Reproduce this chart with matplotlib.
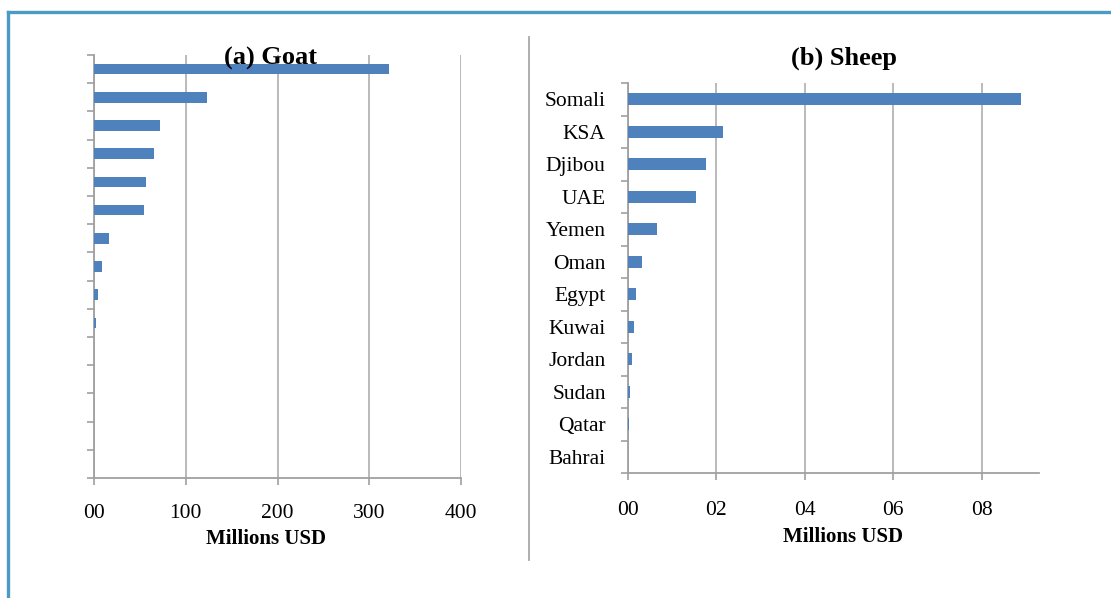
import numpy as np
import matplotlib.pyplot as plt
from matplotlib.lines import Line2D

plt.rcParams['font.family'] = ['Liberation Serif', 'DejaVu Serif']

# ---------------------- Data ---------------------- #

# Goat exports (labels are not readable in the source, top to bottom)
goat_labels = [''] * 15
goat_values = [322, 123, 72, 65, 57, 55, 16, 9, 4.5, 2.5, 0.5, 0.2, 0.1, 0, 0]
goat_ticks = [0, 100, 200, 300, 400]
goat_ticklabels = ['00', '100', '200', '300', '400']

# Sheep exports, top to bottom
sheep_labels = ['Somali', 'KSA', 'Djibou', 'UAE', 'Yemen', 'Oman', 'Egypt',
                'Kuwai', 'Jordan', 'Sudan', 'Qatar', 'Bahrai']
sheep_values = [0.889, 0.216, 0.177, 0.154, 0.066, 0.032, 0.018, 0.013,
                0.009, 0.005, 0.003, 0.0]
sheep_ticks = [0, 0.2, 0.4, 0.6, 0.8]
sheep_ticklabels = ['00', '02', '04', '06', '08']

bar_color = '#4f81bd'
grid_color = '#b4b4b4'
W, H = 1111, 598

fig = plt.figure(figsize=(W / 100, H / 100), dpi=100)


def px_axes(x0, y0, x1, y1):
    return fig.add_axes([x0 / W, 1 - y1 / H, (x1 - x0) / W, (y1 - y0) / H])


def style_axes(ax, labels, values, ticks, ticklabels, xmax, ypad, xpad):
    n = len(labels)
    y = np.arange(n)
    ax.barh(y, values, height=0.37, color=bar_color, zorder=3)
    ax.set_ylim(n - 0.5, -0.5)
    ax.set_xlim(0, xmax)
    ax.set_yticks(y)
    ax.set_yticklabels(labels, fontsize=15.5)
    ax.set_yticks(np.arange(n + 1) - 0.5, minor=True)
    ax.tick_params(axis='y', which='major', length=0, pad=ypad)
    ax.tick_params(axis='y', which='minor', length=5, width=1.2, color='#a0a0a0')
    ax.set_xticks(ticks)
    ax.set_xticklabels(ticklabels, fontsize=15.5)
    ax.tick_params(axis='x', length=5, width=1.2, color='#a0a0a0', pad=xpad)
    ax.grid(axis='x', color=grid_color, linewidth=1.3, zorder=0)
    for s in ['top', 'right']:
        ax.spines[s].set_visible(False)
    for s in ['left', 'bottom']:
        ax.spines[s].set_color('#a0a0a0')
        ax.spines[s].set_linewidth(1.3)


ax1 = px_axes(94, 55, 461, 478)
style_axes(ax1, goat_labels, goat_values, goat_ticks, goat_ticklabels, 400, 16, 14)

ax2 = px_axes(628, 83, 1039, 473)
style_axes(ax2, sheep_labels, sheep_values, sheep_ticks, sheep_ticklabels, 0.93, 16, 15)

# titles and axis labels
fig.text(270 / W, 1 - 58 / H, '(a) Goat', ha='center', va='center',
         fontsize=19, fontweight='bold', zorder=10)
fig.text(844 / W, 1 - 58 / H, '(b) Sheep', ha='center', va='center',
         fontsize=19, fontweight='bold')
fig.text(266 / W, 1 - 539 / H, 'Millions USD', ha='center', va='center',
         fontsize=15, fontweight='bold')
fig.text(843 / W, 1 - 537 / H, 'Millions USD', ha='center', va='center',
         fontsize=15, fontweight='bold')

# divider between panels
fig.add_artist(Line2D([529 / W, 529 / W], [1 - 37 / H, 1 - 560 / H],
                      color='#a8a8a8', linewidth=1.3))

# blue frame (top and left edges)
frame_color = '#4a9cc2'
fig.add_artist(Line2D([8 / W, 1], [1 - 12 / H, 1 - 12 / H],
                      color=frame_color, linewidth=2.4))
fig.add_artist(Line2D([8 / W, 8 / W], [1 - 12 / H, 0],
                      color=frame_color, linewidth=2.4))

fig.savefig('out.png', dpi=100)
